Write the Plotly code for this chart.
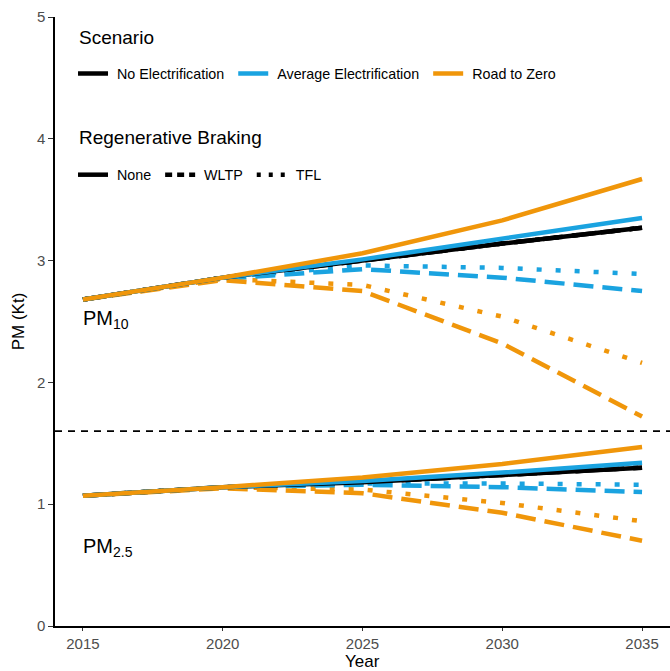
import plotly.graph_objects as go

years = [2015, 2020, 2025, 2030, 2035]

scenarios = ["No Electrification", "Average Electrification", "Road to Zero"]
scenario_colors = ["#000000", "#1AA3E0", "#F0960A"]
braking = ["None", "WLTP", "TFL"]
braking_dash = ["solid", "20px,9px", "5px,14px"]

# PM10 (Kt)
pm10 = {
    ("No Electrification", "None"): [2.68, 2.86, 3.00, 3.14, 3.27],
    ("No Electrification", "WLTP"): [2.68, 2.86, 3.00, 3.14, 3.27],
    ("No Electrification", "TFL"): [2.68, 2.86, 3.00, 3.14, 3.27],
    ("Average Electrification", "None"): [2.68, 2.86, 3.01, 3.18, 3.35],
    ("Average Electrification", "WLTP"): [2.68, 2.85, 2.93, 2.86, 2.75],
    ("Average Electrification", "TFL"): [2.68, 2.86, 2.96, 2.94, 2.89],
    ("Road to Zero", "None"): [2.68, 2.86, 3.06, 3.33, 3.67],
    ("Road to Zero", "WLTP"): [2.68, 2.84, 2.75, 2.32, 1.72],
    ("Road to Zero", "TFL"): [2.68, 2.85, 2.80, 2.54, 2.16],
}

# PM2.5 (Kt)
pm25 = {
    ("No Electrification", "None"): [1.07, 1.14, 1.18, 1.24, 1.30],
    ("No Electrification", "WLTP"): [1.07, 1.14, 1.18, 1.24, 1.30],
    ("No Electrification", "TFL"): [1.07, 1.14, 1.18, 1.24, 1.30],
    ("Average Electrification", "None"): [1.07, 1.14, 1.19, 1.26, 1.34],
    ("Average Electrification", "WLTP"): [1.07, 1.14, 1.16, 1.14, 1.10],
    ("Average Electrification", "TFL"): [1.07, 1.14, 1.17, 1.17, 1.16],
    ("Road to Zero", "None"): [1.07, 1.14, 1.22, 1.33, 1.47],
    ("Road to Zero", "WLTP"): [1.07, 1.13, 1.09, 0.93, 0.70],
    ("Road to Zero", "TFL"): [1.07, 1.14, 1.12, 1.01, 0.86],
}

threshold = 1.6
y_ticks = [0, 1, 2, 3, 4, 5]
x_ticks = [2015, 2020, 2025, 2030, 2035]

FONT = "Liberation Sans, Arial, sans-serif"
NB = "\u00a0"

fig = go.Figure()

for data in (pm10, pm25):
    for b, dash in zip(braking[::-1], braking_dash[::-1]):
        for s, c in zip(scenarios, scenario_colors):
            fig.add_trace(go.Scatter(
                x=years, y=data[(s, b)], mode="lines",
                line=dict(color=c, width=4.5, dash=dash),
                showlegend=False, hoverinfo="skip"))

# legend entries
for s, c in zip(scenarios, scenario_colors):
    fig.add_trace(go.Scatter(x=[None], y=[None], mode="lines", name=NB + s + NB,
                             line=dict(color=c, width=4.5), legend="legend"))
for b, dash in zip(braking, ["solid", "7px,5px", "4px,8px"]):
    fig.add_trace(go.Scatter(x=[None], y=[None], mode="lines", name=NB + b + NB,
                             line=dict(color="#000000", width=4.5, dash=dash), legend="legend2"))

fig.add_hline(y=threshold, line=dict(color="black", width=1.8, dash="7px,6px"))

fig.add_annotation(x=years[0], y=pm10[("Road to Zero", "None")][0], text="PM<sub>10</sub>",
                   showarrow=False, xanchor="left", yanchor="top", yshift=-5, xshift=-2,
                   font=dict(family=FONT, size=20, color="black"))
fig.add_annotation(x=years[0], y=pm25[("Road to Zero", "None")][0], text="PM<sub>2.5</sub>",
                   showarrow=False, xanchor="left", yanchor="top", yshift=-37, xshift=-2,
                   font=dict(family=FONT, size=20, color="black"))

# legend titles
fig.add_annotation(xref="paper", yref="paper", x=0.035, y=0.9657, text="Scenario",
                   showarrow=False, xanchor="left", yanchor="middle",
                   font=dict(family=FONT, size=19, color="black"))
fig.add_annotation(xref="paper", yref="paper", x=0.035, y=0.8023, text="Regenerative Braking",
                   showarrow=False, xanchor="left", yanchor="middle",
                   font=dict(family=FONT, size=19, color="black"))

# x-axis title
fig.add_annotation(xref="paper", yref="paper", x=0.5, y=-0.0575, text="Year",
                   showarrow=False, xanchor="center", yanchor="middle",
                   font=dict(family=FONT, size=17, color="black"))

legend_common = dict(orientation="h", xanchor="left", yanchor="top",
                     bgcolor="rgba(0,0,0,0)", font=dict(family=FONT, size=14.3, color="black"),
                     itemwidth=30, tracegroupgap=0)
fig.update_layout(
    width=670, height=671,
    margin=dict(l=55, r=0, t=17, b=45),
    paper_bgcolor="white", plot_bgcolor="white",
    font=dict(family=FONT),
    legend=dict(**legend_common, x=0.0293, y=0.933),
    legend2=dict(**legend_common, x=0.0293, y=0.767),
    xaxis=dict(range=[2014, 2036], tickvals=x_ticks, showgrid=False, zeroline=False,
               showline=True, linecolor="black", linewidth=1.5,
               ticks="outside", ticklen=3, tickcolor="#333333",
               tickfont=dict(family=FONT, size=15, color="#4D4D4D")),
    yaxis=dict(range=[0, 5], tickvals=y_ticks, showgrid=False, zeroline=False,
               showline=True, linecolor="black", linewidth=1.5,
               ticks="outside", ticklen=5, tickcolor="#333333",
               tickfont=dict(family=FONT, size=15, color="#4D4D4D"),
               title=dict(text="PM (Kt)", font=dict(family=FONT, size=17, color="black"), standoff=8)),
)

fig.write_html("out.html")
